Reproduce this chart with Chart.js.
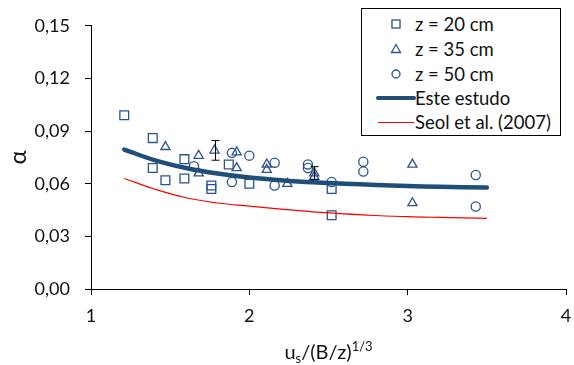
<!DOCTYPE html>
<html>
<head>
<meta charset="utf-8">
<script src="https://cdn.jsdelivr.net/npm/chart.js@4.4.1/dist/chart.umd.min.js"></script>
<style>
  body { margin: 0; background: #fff; }
  #wrap { position: relative; width: 574px; height: 365px; }
  #legend {
    position: absolute; left: 361px; top: 8px; width: 198px; height: 126px;
    border: 1px solid #000; background: #fff; font: 18.5px Lato, sans-serif; color: #111;
  }
  .row { position: absolute; left: 0; width: 198px; height: 24px; }
  .row span.txt { position: absolute; left: 53px; top: 0; line-height: 24px; white-space: nowrap; }
  .row svg { position: absolute; left: 0; top: 0; }
  #xtitle {
    position: absolute; left: 91px; width: 475px; top: 339px; text-align: center;
    font: 20px Lato, sans-serif; color: #111; line-height: 24px;
  }
  #xtitle sub { font-size: 13px; vertical-align: -4px; line-height: 0; }
  #xtitle sup { font-size: 13px; vertical-align: 8px; line-height: 0; }
</style>
</head>
<body>
<div id="wrap">
  <canvas id="chart" width="574" height="365"></canvas>
  <div id="legend">
    <div class="row" style="top:3px">
      <svg width="50" height="24"><rect x="30" y="8" width="8" height="8" fill="none" stroke="#2B5291" stroke-width="1.3"/></svg>
      <span class="txt">z = 20 cm</span>
    </div>
    <div class="row" style="top:28px">
      <svg width="50" height="24"><polygon points="34,7.5 38.5,15.5 29.5,15.5" fill="none" stroke="#2B5291" stroke-width="1.3"/></svg>
      <span class="txt">z = 35 cm</span>
    </div>
    <div class="row" style="top:53px">
      <svg width="50" height="24"><circle cx="34" cy="12" r="4" fill="none" stroke="#2B5291" stroke-width="1.3"/></svg>
      <span class="txt">z = 50 cm</span>
    </div>
    <div class="row" style="top:77px">
      <svg width="54" height="24"><line x1="16" y1="12" x2="52" y2="12" stroke="#1F4E79" stroke-width="4" stroke-linecap="round"/></svg>
      <span class="txt">Este estudo</span>
    </div>
    <div class="row" style="top:101px">
      <svg width="54" height="24"><line x1="16" y1="12.5" x2="52" y2="12.5" stroke="#FF0000" stroke-width="1"/></svg>
      <span class="txt">Seol et al. (2007)</span>
    </div>
  </div>
  <div id="xtitle">u<sub>s</sub>/(B/z)<sup>1/3</sup></div>
</div>
<script>
// axis ticks
const xTicks = [1, 2, 3, 4];
const yTicks = [0, 0.03, 0.06, 0.09, 0.12, 0.15];

// z = 20 cm (squares)
const z20X = [1.21, 1.39, 1.39, 1.47, 1.59, 1.59, 1.76, 1.76, 1.87, 2.00, 2.52, 2.52];
const z20Y = [0.099, 0.086, 0.069, 0.062, 0.074, 0.063, 0.059, 0.057, 0.071, 0.060, 0.057, 0.042];

// z = 35 cm (triangles)
const z35X = [1.47, 1.68, 1.68, 1.78, 1.92, 1.92, 2.11, 2.11, 2.24, 2.41, 2.41, 3.03, 3.03];
const z35Y = [0.081, 0.076, 0.066, 0.079, 0.078, 0.069, 0.071, 0.068, 0.060, 0.066, 0.064, 0.071, 0.049];

// z = 50 cm (circles)
const z50X = [1.65, 1.89, 1.89, 2.00, 2.16, 2.16, 2.37, 2.37, 2.52, 2.72, 2.72, 3.43, 3.43];
const z50Y = [0.070, 0.0776, 0.061, 0.076, 0.072, 0.059, 0.071, 0.069, 0.061, 0.0725, 0.067, 0.065, 0.047];

// fitted curves
const curveX = [1.21, 1.4, 1.6, 1.8, 2.0, 2.2, 2.4, 2.6, 2.8, 3.0, 3.2, 3.5];
const esteY  = [0.0795, 0.0735, 0.069, 0.0658, 0.0635, 0.062, 0.0608, 0.060, 0.0593, 0.0587, 0.0583, 0.0578];
const seolY  = [0.063, 0.057, 0.052, 0.049, 0.0472, 0.0455, 0.0440, 0.0428, 0.0419, 0.0412, 0.0408, 0.0403];

// error bars: x, centre, half-width
const errX = [1.78, 2.41];
const errY = [0.079, 0.066];
const errH = [0.0056, 0.0037];

const zip = (xs, ys) => xs.map((x, i) => ({ x, y: ys[i] }));

const MARK = '#2B5291';

const errorBarPlugin = {
    id: 'errorBars',
    afterDatasetsDraw(chart) {
        const { ctx, scales: { x, y } } = chart;
        ctx.save();
        ctx.strokeStyle = '#000';
        ctx.lineWidth = 1;
        errX.forEach((ex, i) => {
            const px = Math.round(x.getPixelForValue(ex)) + 0.5;
            const top = y.getPixelForValue(errY[i] + errH[i]);
            const bot = y.getPixelForValue(errY[i] - errH[i]);
            ctx.beginPath();
            ctx.moveTo(px, top); ctx.lineTo(px, bot);
            ctx.moveTo(px - 4, top); ctx.lineTo(px + 4, top);
            ctx.moveTo(px - 4, bot); ctx.lineTo(px + 4, bot);
            ctx.stroke();
        });
        ctx.restore();
    }
};

const markerSet = (label, data, style, radius) => ({
    label, data, type: 'scatter', showLine: false, order: 2,
    pointStyle: style, pointRadius: radius, pointHoverRadius: radius,
    pointBorderColor: MARK, pointBackgroundColor: 'rgba(0,0,0,0)', pointBorderWidth: 1.3
});

new Chart(document.getElementById('chart'), {
    type: 'scatter',
    data: {
        datasets: [
            markerSet('z = 20 cm', zip(z20X, z20Y), 'rect', 6.2),
            markerSet('z = 35 cm', zip(z35X, z35Y), 'triangle', 5.3),
            markerSet('z = 50 cm', zip(z50X, z50Y), 'circle', 4.6),
            {
                label: 'Este estudo', data: zip(curveX, esteY), type: 'line', order: 1,
                borderColor: '#1F4E79', borderWidth: 4.5, pointRadius: 0, tension: 0.4,
                borderCapStyle: 'round', fill: false
            },
            {
                label: 'Seol et al. (2007)', data: zip(curveX, seolY), type: 'line', order: 1,
                borderColor: '#FF0000', borderWidth: 1.2, pointRadius: 0, tension: 0.4, fill: false
            }
        ]
    },
    options: {
        responsive: false,
        animation: false,
        layout: { padding: { left: 0, top: 22, right: 0, bottom: 0 } },
        plugins: { legend: { display: false }, tooltip: { enabled: false } },
        scales: {
            x: {
                type: 'linear', min: 1, max: 4,
                afterBuildTicks: s => { s.ticks = xTicks.map(v => ({ value: v })); },
                afterFit: s => { s.height = 76; s.paddingRight = 8; s.paddingLeft = 0; },
                grid: { drawOnChartArea: false, tickLength: 6, color: '#000' },
                border: { color: '#000', width: 1 },
                ticks: { color: '#111', font: { family: 'Lato', size: 18 }, padding: 10 }
            },
            y: {
                type: 'linear', min: 0, max: 0.15,
                afterBuildTicks: s => { s.ticks = yTicks.map(v => ({ value: v })); },
                afterFit: s => { s.width = 91; },
                grid: { drawOnChartArea: false, tickLength: 6, color: '#000' },
                border: { color: '#000', width: 1 },
                ticks: {
                    color: '#111', font: { family: 'Lato', size: 18 }, padding: 15,
                    callback: v => v.toFixed(2).replace('.', ',')
                },
                title: { display: true, text: 'α', color: '#111', font: { family: 'Lato', size: 24 }, padding: { top: 4, bottom: 0 } }
            }
        }
    },
    plugins: [errorBarPlugin]
});
</script>
</body>
</html>
